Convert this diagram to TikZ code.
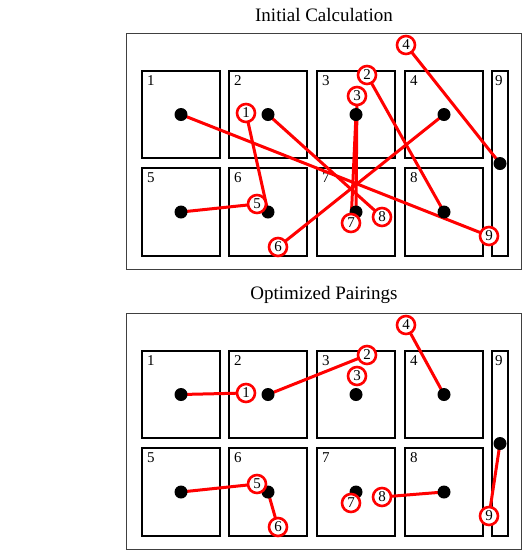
\documentclass[tikz,border=0pt]{standalone}
\usepackage{fontspec}
\setmainfont{Liberation Serif}
\tikzset{
  titletext/.style={font=\fontsize{19}{22}\selectfont, inner sep=0pt},
  outerframe/.style={draw=black!75, line width=1.5pt, anchor=north west, inner sep=0pt, minimum width=395pt, minimum height=236pt},
  cellbox/.style={draw=black, line width=2pt, anchor=north west, inner sep=0pt, minimum width=78pt},
  cellnum/.style={font=\fontsize{15}{18}\selectfont, anchor=north west, inner sep=0pt},
  blackdot/.style={circle, fill=black, inner sep=0pt, minimum size=13pt},
  pairline/.style={draw=red, line width=3pt},
  tag/.style={circle, draw=red, fill=white, line width=2.6pt, inner sep=0pt, minimum size=18pt, font=\fontsize{15}{18}\selectfont}
}
\newcommand{\mypanel}[2]{%
  \node[titletext] (#1title) at (324,15) {#2};
  \node[outerframe] (#1outer) at (125.5,32.5) {};
  \foreach \i/\x/\y/\h in {1/141/70/87, 2/228/70/87, 3/316/70/87, 4/404/70/87, 5/141/167/88, 6/228/167/88, 7/316/167/88, 8/404/167/88} {
    \node[cellbox, minimum height=\h pt] (#1b\i) at (\x,\y) {};
    \node[cellnum] (#1n\i) at ([xshift=6pt,yshift=-5pt]#1b\i.north west) {\i};
    \coordinate (#1c\i) at (#1b\i.center);
  }
  \node[cellbox, minimum width=16pt, minimum height=185pt] (#1b9) at (491,70) {};
  \node[cellnum] (#1n9) at ([xshift=4pt,yshift=-5pt]#1b9.north west) {9};
  \coordinate (#1c9) at (#1b9.center);
  \foreach \i/\x/\y in {1/246/113, 2/367/75, 3/357/96, 4/406/45, 5/257/204, 6/278/247, 7/351/223, 8/382/217, 9/489/236} {
    \coordinate (#1p\i) at (\x,\y);
  }
}
\newcommand{\mydots}[1]{%
  \foreach \i in {1,...,9} {\node[blackdot] (#1d\i) at (#1c\i) {};}
}
\newcommand{\mytags}[1]{%
  \foreach \i in {1,...,9} {\node[tag] (#1t\i) at (#1p\i) {\i};}
}
\begin{document}
\begin{tikzpicture}[x=1pt, y=-1pt]
  \useasboundingbox (0,0) rectangle (523,550);
  % top panel
  \mypanel{a}{Initial Calculation}
  \foreach \l/\d in {1/6, 2/8, 3/7, 4/9, 5/5, 6/4, 7/3, 8/2, 9/1} {
    \draw[pairline] (ap\l) -- (ac\d);
  }
  \mydots{a}
  \mytags{a}
  % bottom panel
  \begin{scope}[yshift=-280pt]
    \mypanel{b}{Optimized Pairings}
    \foreach \l/\d in {1/1, 2/2, 4/4, 5/5, 6/6, 8/8, 9/9} {
      \draw[pairline] (bp\l) -- (bc\d);
    }
    \mydots{b}
    \mytags{b}
  \end{scope}
\end{tikzpicture}
\end{document}
